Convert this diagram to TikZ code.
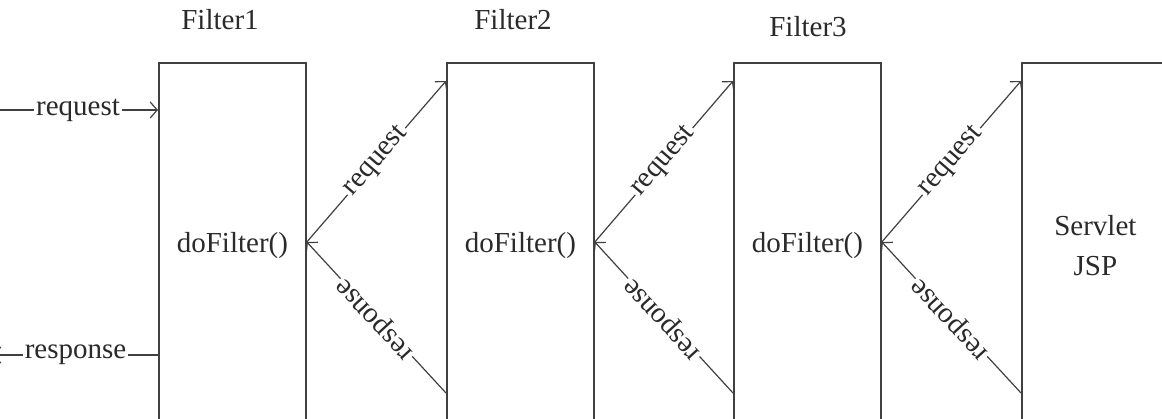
\documentclass[tikz,border=0pt]{standalone}
\usepackage{fontspec}
\setmainfont{Liberation Serif}
\usetikzlibrary{arrows.meta,calc}
\definecolor{linec}{HTML}{404040}
\definecolor{txt}{HTML}{2a2a2a}
\begin{document}
\begin{tikzpicture}[x=1pt,y=-1pt,
  every node/.style={font=\fontsize{29}{40}\selectfont, text=txt},
  box/.style={draw=linec, line width=1.8pt, minimum width=147pt, minimum height=366pt,
    anchor=north west, inner sep=0pt, align=center},
  arr/.style={draw=linec, line width=1.2pt, -{Straight Barb[length=7pt,width=16pt,line width=1.2pt]}},
  lbl/.style={fill=white, inner sep=2pt, midway},
  head/.style={}]
\useasboundingbox (0,0) rectangle (1162,418);
\clip (0,0) rectangle (1162,418);
\node[box] (f1) at (158,62) {doFilter()};
\node[box] (f2) at (446,62) {doFilter()};
\node[box] (f3) at (733,62) {doFilter()};
\node[box] (sv) at (1021,62) {Servlet\\JSP};
\node[head] (h1) at (220,20) {Filter1};
\node[head] (h2) at (513,20) {Filter2};
\node[head] (h3) at (808,27) {Filter3};
% left side
\coordinate (inL) at (-2,110);
\coordinate (outL) at (-7,355);
\draw[arr] (inL) -- node[lbl]{request} (f1.west |- 0,110);
\draw[arr] (f1.west |- 0,355) -- node[lbl]{response} (outL);
% between boxes
\foreach \a/\b in {f1/f2, f2/f3, f3/sv}{
  \draw[arr] (\a.east |- 0,242) -- node[lbl, sloped]{request} (\b.west |- 0,81);
  \draw[arr] (\b.west |- 0,393) -- node[lbl, sloped, allow upside down]{response} (\a.east |- 0,242);
}
\end{tikzpicture}
\end{document}
